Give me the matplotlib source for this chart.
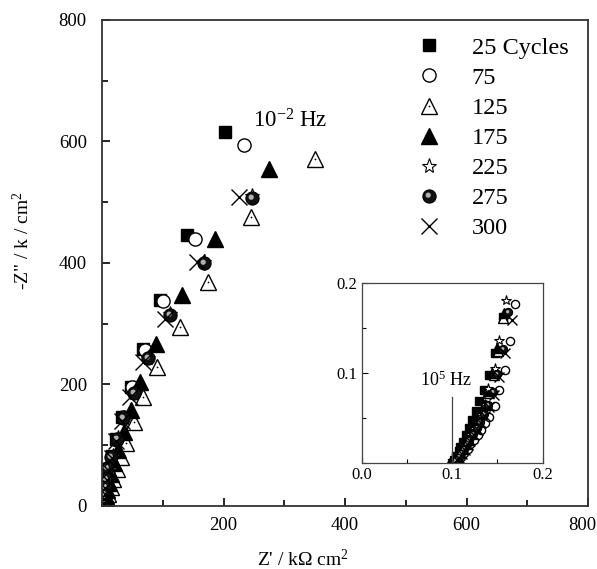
import matplotlib
matplotlib.use("Agg")
import matplotlib.pyplot as plt
from matplotlib.lines import Line2D
from matplotlib.markers import MarkerStyle
from matplotlib.transforms import Affine2D, ScaledTranslation
from matplotlib.ticker import MultipleLocator

plt.rcParams['font.family'] = ['Liberation Serif', 'DejaVu Serif']
plt.rcParams['mathtext.fontset'] = 'custom'
plt.rcParams['mathtext.rm'] = 'Liberation Serif'
plt.rcParams['mathtext.it'] = 'Liberation Serif:italic'

# cycles in the legend
labels = ['25 Cycles', '75', '125', '175', '225', '275', '300']

# main Nyquist plot, Z' and -Z'' in kOhm cm2
x25 = [203, 140, 96, 68, 47, 33, 23, 16, 11, 7, 5, 3, 2, 1.5, 1]
y25 = [615, 446, 339, 258, 196, 147, 110, 82, 60, 43, 30, 20, 12, 6, 2]
x75 = [233, 153, 101, 71, 49, 35, 25, 17, 12, 8, 6, 4, 3, 2, 1.5]
y75 = [594, 440, 338, 257, 195, 146, 109, 81, 59, 42, 29, 19, 11, 5, 2]
x125 = [351, 245, 175, 129, 90, 68, 52, 40, 31, 24, 18, 14, 10, 7, 5]
y125 = [571, 475, 368, 294, 229, 179, 138, 103, 80, 60, 44, 31, 20, 11, 4]
x175 = [275, 186, 132, 88, 63, 47, 36, 27, 20, 15, 11, 8, 6, 4, 3]
y175 = [555, 440, 347, 267, 204, 157, 122, 92, 70, 52, 38, 26, 16, 9, 3]
x225 = [247, 167, 112, 76, 52, 36, 26, 18, 13, 9, 6, 4, 3, 2, 1.5]
y225 = [510, 402, 316, 244, 186, 145, 111, 82, 61, 44, 30, 20, 12, 6, 2]
x275 = [247, 167, 112, 76, 52, 35, 25, 15, 8, 6, 4, 3, 2, 1.5, 1]
y275 = [506, 399, 315, 243, 185, 144, 110, 81, 62, 45, 31, 20, 12, 6, 2]
x300 = [225, 156, 104, 68, 46, 32, 23, 16, 11, 8, 5, 4, 3, 2, 1]
y300 = [508, 401, 308, 237, 180, 140, 106, 79, 58, 42, 29, 19, 11, 5, 2]

# inset, high frequency end
ix25 = [0.100, 0.102, 0.104, 0.107, 0.109, 0.112, 0.115, 0.118, 0.122, 0.126, 0.130, 0.135, 0.141, 0.147, 0.156]
iy25 = [0.000, 0.004, 0.008, 0.013, 0.018, 0.024, 0.031, 0.039, 0.048, 0.058, 0.069, 0.081, 0.098, 0.122, 0.162]
ix75 = [0.104, 0.107, 0.110, 0.113, 0.117, 0.120, 0.124, 0.128, 0.132, 0.136, 0.141, 0.147, 0.152, 0.158, 0.164, 0.169]
iy75 = [0.000, 0.003, 0.007, 0.011, 0.016, 0.021, 0.026, 0.031, 0.037, 0.044, 0.051, 0.063, 0.081, 0.103, 0.135, 0.177]
ix125 = [0.101, 0.103, 0.106, 0.109, 0.112, 0.115, 0.118, 0.121, 0.125, 0.129, 0.133, 0.137, 0.141, 0.146, 0.151, 0.156]
iy125 = [0.000, 0.003, 0.007, 0.011, 0.016, 0.021, 0.026, 0.032, 0.039, 0.046, 0.054, 0.064, 0.078, 0.098, 0.124, 0.161]
ix175 = [0.100, 0.102, 0.105, 0.107, 0.110, 0.113, 0.116, 0.119, 0.123, 0.127, 0.131, 0.135, 0.139, 0.144, 0.150, 0.157]
iy175 = [0.000, 0.003, 0.007, 0.011, 0.016, 0.021, 0.026, 0.032, 0.039, 0.046, 0.054, 0.065, 0.080, 0.100, 0.128, 0.166]
ix225 = [0.100, 0.103, 0.105, 0.108, 0.111, 0.114, 0.117, 0.120, 0.124, 0.128, 0.132, 0.136, 0.140, 0.147, 0.152, 0.160]
iy225 = [0.000, 0.003, 0.007, 0.011, 0.016, 0.021, 0.026, 0.032, 0.039, 0.046, 0.054, 0.066, 0.083, 0.106, 0.137, 0.181]
ix275 = [0.102, 0.104, 0.107, 0.110, 0.113, 0.116, 0.119, 0.123, 0.127, 0.131, 0.135, 0.140, 0.145, 0.150, 0.156, 0.162]
iy275 = [0.000, 0.003, 0.007, 0.011, 0.016, 0.021, 0.026, 0.032, 0.039, 0.046, 0.054, 0.064, 0.079, 0.099, 0.127, 0.168]
ix300 = [0.102, 0.105, 0.108, 0.111, 0.114, 0.117, 0.120, 0.124, 0.128, 0.132, 0.136, 0.141, 0.146, 0.152, 0.158, 0.166]
iy300 = [0.000, 0.003, 0.006, 0.010, 0.015, 0.020, 0.025, 0.031, 0.037, 0.044, 0.052, 0.062, 0.076, 0.095, 0.122, 0.159]

main_data = [(x25, y25), (x75, y75), (x125, y125), (x175, y175),
             (x225, y225), (x275, y275), (x300, y300)]
inset_data = [(ix25, iy25), (ix75, iy75), (ix125, iy125), (ix175, iy175),
              (ix225, iy225), (ix275, iy275), (ix300, iy300)]

highlight = MarkerStyle('o', transform=Affine2D().scale(0.4).translate(-0.1, 0.1))


def styles(scale):
    # one list of overlaid marker layers for each series
    s = scale
    return [
        [dict(marker='s', ms=8.5 * s, mfc='black', mec='black', mew=1)],
        [dict(marker='o', ms=9.5 * s, mfc='white', mec='black', mew=1)],
        [dict(marker='^', ms=11 * s, mfc='white', mec='black', mew=1),
         dict(marker='.', ms=2.5 * s, mfc='black', mec='black', mew=0)],
        [dict(marker='^', ms=11 * s, mfc='black', mec='black', mew=1)],
        [dict(marker='*', ms=11 * s, mfc='white', mec='black', mew=0.8)],
        [dict(marker='o', ms=9.5 * s, mfc='#111111', mec='black', mew=0.8),
         dict(marker=highlight, ms=9.5 * s, mfc='#b0b0b0', mec='none', mew=0)],
        [dict(marker='x', ms=11 * s, mfc='none', mec='black', mew=1)],
    ]


fig = plt.figure(figsize=(5.97, 5.69), dpi=100)
ax = fig.add_axes([0.171, 0.111, 0.814, 0.854])

main_styles = styles(1.0)
for (xs, ys), layers in zip(main_data, main_styles):
    for st in layers:
        ax.plot(xs, ys, ls='none', **st)

ax.set_xlim(0, 800)
ax.set_ylim(0, 800)
ax.set_xticks([200, 400, 600, 800])
ax.set_yticks([0, 200, 400, 600, 800])
ax.xaxis.set_minor_locator(MultipleLocator(100))
ax.yaxis.set_minor_locator(MultipleLocator(100))
ax.tick_params(which='both', direction='in', top=False, right=False, labelsize=13.5)
ax.tick_params(axis='x', pad=8)
ax.tick_params(axis='y', pad=11)
ax.tick_params(which='major', length=6, width=1.2)
ax.tick_params(which='minor', length=4, width=1.2)
for sp in ax.spines.values():
    sp.set_linewidth(1.3)
    sp.set_color('#333333')

# last x label sits a little left, as in the original
fig.canvas.draw()
last = ax.get_xticklabels()[-1]
last.set_transform(last.get_transform() + ScaledTranslation(-6 / 100, 0, fig.dpi_scale_trans))

ax.set_xlabel("Z' / k\u03a9 cm$^2$", fontsize=14)
ax.set_ylabel('-Z" / k / cm$^2$', fontsize=14)
ax.xaxis.set_label_coords(0.414, -0.088)
ax.yaxis.set_label_coords(-0.142, 0.545)

ax.text(249, 634, '10$^{-2}$ Hz', fontsize=16.5, va='center', ha='left')

handles = []
for layers in main_styles:
    parts = tuple(Line2D([], [], ls='none', **st) for st in layers)
    handles.append(parts)
leg = ax.legend(handles, labels, loc='upper right', bbox_to_anchor=(0.99, 0.995),
                frameon=False, fontsize=17.5, handletextpad=1.0, labelspacing=0.33,
                handlelength=1.5, borderaxespad=0.2)

# inset
ins = fig.add_axes([0.606, 0.186, 0.303, 0.317])
for (xs, ys), layers in zip(inset_data, styles(0.62)):
    for st in layers:
        ins.plot(xs, ys, ls='none', **st)
ins.set_xlim(0, 0.2)
ins.set_ylim(0, 0.2)
ins.set_xticks([0.0, 0.1, 0.2])
ins.set_yticks([0.1, 0.2])
ins.set_xticklabels(['0.0', '0.1', '0.2'])
ins.set_yticklabels(['0.1', '0.2'])
ins.xaxis.set_minor_locator(MultipleLocator(0.05))
ins.yaxis.set_minor_locator(MultipleLocator(0.05))
ins.tick_params(which='both', direction='in', top=False, right=False, labelsize=12, pad=3)
ins.tick_params(which='major', length=4, width=0.8)
ins.tick_params(which='minor', length=3, width=0.8)
for sp in ins.spines.values():
    sp.set_linewidth(0.9)
    sp.set_color('#444444')

ins.plot([0.1, 0.1], [0.0, 0.073], color='#444444', lw=0.9)
ins.text(0.064, 0.092, '10$^{5}$ Hz', fontsize=13, va='center', ha='left')

fig.savefig('out.png', dpi=100)
